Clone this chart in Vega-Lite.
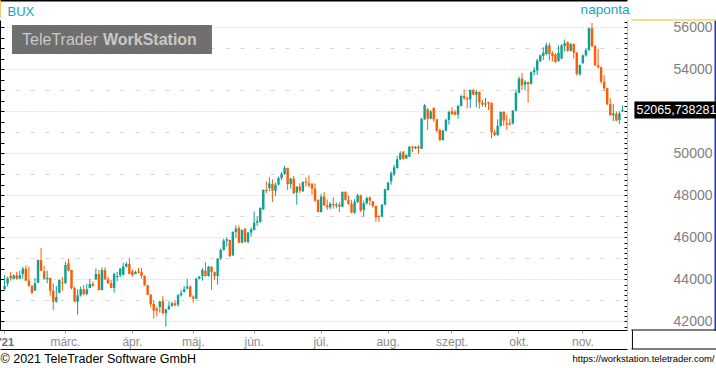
{
"$schema": "https://vega.github.io/schema/vega-lite/v6.json",
"width": 627, "height": 310,
"autosize": {"type": "none"},
"padding": {"left": 0, "top": 20, "right": 89, "bottom": 38},
"background": "white",
"config": {
  "view": {"stroke": null},
  "font": "Liberation Sans",
  "locale": {"number": {"decimal": ",", "thousands": "", "grouping": [3], "currency": ["", ""]}}
},
"data": {"values": [
{"d":"2021-02-01","o":43524,"h":44206,"l":43492,"c":43683},
{"d":"2021-02-02","o":43810,"h":44127,"l":43651,"c":44048},
{"d":"2021-02-03","o":44159,"h":44349,"l":43937,"c":44048},
{"d":"2021-02-04","o":44032,"h":44220,"l":44000,"c":44190},
{"d":"2021-02-05","o":44190,"h":44349,"l":43968,"c":44032},
{"d":"2021-02-08","o":44032,"h":44413,"l":44020,"c":44190},
{"d":"2021-02-09","o":44254,"h":44603,"l":44032,"c":44508},
{"d":"2021-02-10","o":44508,"h":44667,"l":43920,"c":43937},
{"d":"2021-02-11","o":43937,"h":44603,"l":43651,"c":43683},
{"d":"2021-02-12","o":43683,"h":43730,"l":43302,"c":43365},
{"d":"2021-02-15","o":43460,"h":44063,"l":43450,"c":43810},
{"d":"2021-02-16","o":43841,"h":44940,"l":43820,"c":44921},
{"d":"2021-02-17","o":44921,"h":45492,"l":44381,"c":44413},
{"d":"2021-02-18","o":44381,"h":44635,"l":43968,"c":44032},
{"d":"2021-02-19","o":44010,"h":44413,"l":43810,"c":44063},
{"d":"2021-02-22","o":44063,"h":44080,"l":43222,"c":43460},
{"d":"2021-02-23","o":43460,"h":43810,"l":42540,"c":42937},
{"d":"2021-02-24","o":42937,"h":43683,"l":42889,"c":43159},
{"d":"2021-02-25","o":43365,"h":43990,"l":43340,"c":43968},
{"d":"2021-02-26","o":43860,"h":44111,"l":43460,"c":43810},
{"d":"2021-03-01","o":43810,"h":44841,"l":43790,"c":44683},
{"d":"2021-03-02","o":44762,"h":44984,"l":44381,"c":44413},
{"d":"2021-03-03","o":44444,"h":44460,"l":43524,"c":43587},
{"d":"2021-03-04","o":43587,"h":43651,"l":42920,"c":42937},
{"d":"2021-03-05","o":42937,"h":43524,"l":42317,"c":43238},
{"d":"2021-03-08","o":43238,"h":43651,"l":43175,"c":43524},
{"d":"2021-03-09","o":43524,"h":43730,"l":43238,"c":43302},
{"d":"2021-03-10","o":43302,"h":43778,"l":43238,"c":43524},
{"d":"2021-03-11","o":43587,"h":44016,"l":43570,"c":43778},
{"d":"2021-03-12","o":43778,"h":43889,"l":43651,"c":43683},
{"d":"2021-03-16","o":44000,"h":44508,"l":43968,"c":44254},
{"d":"2021-03-17","o":44254,"h":44444,"l":43460,"c":43492},
{"d":"2021-03-18","o":43492,"h":44571,"l":43470,"c":44444},
{"d":"2021-03-19","o":44444,"h":44571,"l":43968,"c":44000},
{"d":"2021-03-22","o":44000,"h":44127,"l":43778,"c":43810},
{"d":"2021-03-23","o":43810,"h":43968,"l":43570,"c":43587},
{"d":"2021-03-24","o":43587,"h":44317,"l":43365,"c":44254},
{"d":"2021-03-25","o":44110,"h":44349,"l":43905,"c":44159},
{"d":"2021-03-26","o":44190,"h":44540,"l":44095,"c":44508},
{"d":"2021-03-29","o":44222,"h":44794,"l":44159,"c":44603},
{"d":"2021-03-30","o":44603,"h":44825,"l":44571,"c":44730},
{"d":"2021-03-31","o":44730,"h":45016,"l":44240,"c":44254},
{"d":"2021-04-01","o":44381,"h":44476,"l":44127,"c":44190},
{"d":"2021-04-06","o":44254,"h":44413,"l":44240,"c":44349},
{"d":"2021-04-07","o":44380,"h":44540,"l":44286,"c":44317},
{"d":"2021-04-08","o":44349,"h":44540,"l":44032,"c":44159},
{"d":"2021-04-09","o":44159,"h":44190,"l":43683,"c":43714},
{"d":"2021-04-12","o":43714,"h":43746,"l":43238,"c":43270},
{"d":"2021-04-13","o":43270,"h":43302,"l":42667,"c":42825},
{"d":"2021-04-14","o":42825,"h":42984,"l":42127,"c":42508},
{"d":"2021-04-15","o":42603,"h":42698,"l":42222,"c":42508},
{"d":"2021-04-16","o":42683,"h":42984,"l":42413,"c":42937},
{"d":"2021-04-19","o":42984,"h":43206,"l":42317,"c":42381},
{"d":"2021-04-20","o":42381,"h":42603,"l":41746,"c":42571},
{"d":"2021-04-21","o":42571,"h":42937,"l":42540,"c":42730},
{"d":"2021-04-22","o":42730,"h":42937,"l":42698,"c":42857},
{"d":"2021-04-23","o":42857,"h":43016,"l":42698,"c":42762},
{"d":"2021-04-26","o":42794,"h":43302,"l":42698,"c":43238},
{"d":"2021-04-27","o":43238,"h":43492,"l":43175,"c":43333},
{"d":"2021-04-28","o":43397,"h":43683,"l":43365,"c":43524},
{"d":"2021-04-29","o":43556,"h":44032,"l":43524,"c":43651},
{"d":"2021-04-30","o":43651,"h":43714,"l":43160,"c":43175},
{"d":"2021-05-03","o":43175,"h":43238,"l":42889,"c":43079},
{"d":"2021-05-04","o":43079,"h":44063,"l":43060,"c":44032},
{"d":"2021-05-05","o":44032,"h":44159,"l":44000,"c":44127},
{"d":"2021-05-06","o":44159,"h":44540,"l":43937,"c":44444},
{"d":"2021-05-07","o":44413,"h":44825,"l":44127,"c":44159},
{"d":"2021-05-10","o":44159,"h":44635,"l":44127,"c":44603},
{"d":"2021-05-11","o":44603,"h":44620,"l":43492,"c":44349},
{"d":"2021-05-12","o":44349,"h":44370,"l":43968,"c":44159},
{"d":"2021-05-13","o":44159,"h":45016,"l":43746,"c":44984},
{"d":"2021-05-14","o":44984,"h":45460,"l":44921,"c":45397},
{"d":"2021-05-17","o":45397,"h":45937,"l":45365,"c":45841},
{"d":"2021-05-18","o":45841,"h":46000,"l":45556,"c":45905},
{"d":"2021-05-19","o":45873,"h":45890,"l":45048,"c":45111},
{"d":"2021-05-20","o":45143,"h":46286,"l":45111,"c":46254},
{"d":"2021-05-21","o":46254,"h":46571,"l":45968,"c":46413},
{"d":"2021-05-25","o":46444,"h":46571,"l":45730,"c":45746},
{"d":"2021-05-26","o":45746,"h":46381,"l":45714,"c":46349},
{"d":"2021-05-27","o":46413,"h":46444,"l":45746,"c":45778},
{"d":"2021-05-28","o":45778,"h":46254,"l":45714,"c":46222},
{"d":"2021-05-31","o":46222,"h":46476,"l":46032,"c":46381},
{"d":"2021-06-01","o":46349,"h":47238,"l":46330,"c":46698},
{"d":"2021-06-02","o":46698,"h":46984,"l":46540,"c":46762},
{"d":"2021-06-03","o":46730,"h":47429,"l":46698,"c":47397},
{"d":"2021-06-04","o":47333,"h":48286,"l":47302,"c":48254},
{"d":"2021-06-07","o":48254,"h":48667,"l":48095,"c":48200},
{"d":"2021-06-08","o":48349,"h":48857,"l":48190,"c":48571},
{"d":"2021-06-09","o":48540,"h":48762,"l":47683,"c":48222},
{"d":"2021-06-10","o":48222,"h":48603,"l":47968,"c":48508},
{"d":"2021-06-11","o":48508,"h":48889,"l":48476,"c":48825},
{"d":"2021-06-14","o":48825,"h":49111,"l":48730,"c":49016},
{"d":"2021-06-15","o":49016,"h":49397,"l":48984,"c":49302},
{"d":"2021-06-16","o":49302,"h":49320,"l":48254,"c":48540},
{"d":"2021-06-17","o":48540,"h":48825,"l":48317,"c":48794},
{"d":"2021-06-18","o":48794,"h":48921,"l":48063,"c":48095},
{"d":"2021-06-21","o":48127,"h":48430,"l":47556,"c":48413},
{"d":"2021-06-22","o":48413,"h":48571,"l":48095,"c":48222},
{"d":"2021-06-23","o":48190,"h":48667,"l":48159,"c":48635},
{"d":"2021-06-24","o":48650,"h":48857,"l":48413,"c":48600},
{"d":"2021-06-25","o":48571,"h":48952,"l":48381,"c":48476},
{"d":"2021-06-28","o":48540,"h":48603,"l":48032,"c":48317},
{"d":"2021-06-29","o":48317,"h":48571,"l":47683,"c":47746},
{"d":"2021-06-30","o":47778,"h":47810,"l":47190,"c":47206},
{"d":"2021-07-01","o":47206,"h":48063,"l":47175,"c":47937},
{"d":"2021-07-02","o":47937,"h":48159,"l":47492,"c":47524},
{"d":"2021-07-05","o":47524,"h":47810,"l":47302,"c":47429},
{"d":"2021-07-06","o":47429,"h":47683,"l":47333,"c":47587},
{"d":"2021-07-07","o":47580,"h":47905,"l":47365,"c":47524},
{"d":"2021-07-08","o":47500,"h":47650,"l":47380,"c":47560},
{"d":"2021-07-09","o":47556,"h":47683,"l":47206,"c":47460},
{"d":"2021-07-12","o":47460,"h":48190,"l":47429,"c":48159},
{"d":"2021-07-13","o":48159,"h":48190,"l":47746,"c":47778},
{"d":"2021-07-14","o":47778,"h":48000,"l":47556,"c":47587},
{"d":"2021-07-15","o":47587,"h":47778,"l":47143,"c":47175},
{"d":"2021-07-16","o":47175,"h":47810,"l":47111,"c":47683},
{"d":"2021-07-19","o":47683,"h":48063,"l":47619,"c":48000},
{"d":"2021-07-20","o":48000,"h":48032,"l":47206,"c":47270},
{"d":"2021-07-21","o":47302,"h":47746,"l":46984,"c":47619},
{"d":"2021-07-22","o":47619,"h":47937,"l":47556,"c":47873},
{"d":"2021-07-23","o":47905,"h":47937,"l":47524,"c":47746},
{"d":"2021-07-26","o":47714,"h":47730,"l":47397,"c":47492},
{"d":"2021-07-27","o":47492,"h":47510,"l":46730,"c":46952},
{"d":"2021-07-28","o":47016,"h":47048,"l":46730,"c":46960},
{"d":"2021-07-29","o":46984,"h":47587,"l":46952,"c":47556},
{"d":"2021-07-30","o":47556,"h":48317,"l":47524,"c":48286},
{"d":"2021-08-02","o":48254,"h":48635,"l":48222,"c":48603},
{"d":"2021-08-03","o":48667,"h":49143,"l":48508,"c":49048},
{"d":"2021-08-04","o":49016,"h":49460,"l":48921,"c":49333},
{"d":"2021-08-05","o":49302,"h":49873,"l":49270,"c":49714},
{"d":"2021-08-06","o":49714,"h":50095,"l":49683,"c":50000},
{"d":"2021-08-09","o":50079,"h":50110,"l":49700,"c":49732},
{"d":"2021-08-10","o":49760,"h":49950,"l":49720,"c":49921},
{"d":"2021-08-11","o":49842,"h":50350,"l":49820,"c":50315},
{"d":"2021-08-12","o":50315,"h":50360,"l":50050,"c":50260},
{"d":"2021-08-13","o":50236,"h":50340,"l":50200,"c":50315},
{"d":"2021-08-16","o":50315,"h":50394,"l":49980,"c":50236},
{"d":"2021-08-17","o":50222,"h":51680,"l":50200,"c":51651},
{"d":"2021-08-18","o":51619,"h":52340,"l":51590,"c":52286},
{"d":"2021-08-19","o":52095,"h":52150,"l":51111,"c":51651},
{"d":"2021-08-23","o":51651,"h":52050,"l":51620,"c":52000},
{"d":"2021-08-24","o":52158,"h":52190,"l":51500,"c":51619},
{"d":"2021-08-25","o":51619,"h":51650,"l":51015,"c":51079},
{"d":"2021-08-26","o":51111,"h":51170,"l":50571,"c":50635},
{"d":"2021-08-27","o":50635,"h":51111,"l":50600,"c":51079},
{"d":"2021-08-30","o":51079,"h":51651,"l":51040,"c":51587},
{"d":"2021-08-31","o":51587,"h":52032,"l":51365,"c":51968},
{"d":"2021-09-01","o":52000,"h":52190,"l":51810,"c":51873},
{"d":"2021-09-02","o":51968,"h":52063,"l":51810,"c":51841},
{"d":"2021-09-03","o":51841,"h":52317,"l":51651,"c":52254},
{"d":"2021-09-06","o":52254,"h":52794,"l":52222,"c":52730},
{"d":"2021-09-07","o":52730,"h":53048,"l":52540,"c":52635},
{"d":"2021-09-08","o":52635,"h":52698,"l":52127,"c":52571},
{"d":"2021-09-09","o":52571,"h":53048,"l":52159,"c":53016},
{"d":"2021-09-10","o":53016,"h":53079,"l":52762,"c":52794},
{"d":"2021-09-13","o":52794,"h":53016,"l":52190,"c":52921},
{"d":"2021-09-14","o":52921,"h":52952,"l":52127,"c":52413},
{"d":"2021-09-15","o":52413,"h":52540,"l":52222,"c":52317},
{"d":"2021-09-16","o":52317,"h":52635,"l":52190,"c":52381},
{"d":"2021-09-17","o":52440,"h":52460,"l":52063,"c":52381},
{"d":"2021-09-20","o":52408,"h":52420,"l":50713,"c":50995},
{"d":"2021-09-21","o":50995,"h":51111,"l":50825,"c":50870},
{"d":"2021-09-22","o":50870,"h":51619,"l":50825,"c":51309},
{"d":"2021-09-23","o":51309,"h":52000,"l":51270,"c":51968},
{"d":"2021-09-24","o":51969,"h":52000,"l":51309,"c":51560},
{"d":"2021-09-27","o":51435,"h":51843,"l":51121,"c":51372},
{"d":"2021-09-28","o":51435,"h":51651,"l":51333,"c":51370},
{"d":"2021-09-29","o":51429,"h":52063,"l":51365,"c":52031},
{"d":"2021-09-30","o":52031,"h":53048,"l":52000,"c":52879},
{"d":"2021-10-01","o":52879,"h":53651,"l":52857,"c":53554},
{"d":"2021-10-04","o":53554,"h":53821,"l":53005,"c":53240},
{"d":"2021-10-05","o":53270,"h":53492,"l":53016,"c":53397},
{"d":"2021-10-06","o":53397,"h":53420,"l":52413,"c":53290},
{"d":"2021-10-07","o":53302,"h":53900,"l":53270,"c":53868},
{"d":"2021-10-08","o":53868,"h":54095,"l":53711,"c":53968},
{"d":"2021-10-11","o":53947,"h":54496,"l":53727,"c":54418},
{"d":"2021-10-12","o":54386,"h":54700,"l":54350,"c":54669},
{"d":"2021-10-13","o":54638,"h":55046,"l":54449,"c":54795},
{"d":"2021-10-14","o":54732,"h":55266,"l":54669,"c":55140},
{"d":"2021-10-15","o":55140,"h":55266,"l":54418,"c":54732},
{"d":"2021-10-18","o":54763,"h":54857,"l":54386,"c":54638},
{"d":"2021-10-19","o":54698,"h":54763,"l":54300,"c":54353},
{"d":"2021-10-20","o":54400,"h":55137,"l":54350,"c":54792},
{"d":"2021-10-21","o":54510,"h":55200,"l":54480,"c":55137},
{"d":"2021-10-22","o":55106,"h":55420,"l":54855,"c":55231},
{"d":"2021-10-25","o":55294,"h":55325,"l":54823,"c":54886},
{"d":"2021-10-26","o":54886,"h":55250,"l":54850,"c":55200},
{"d":"2021-10-27","o":55200,"h":55230,"l":54510,"c":54792},
{"d":"2021-10-28","o":54792,"h":54820,"l":53700,"c":53788},
{"d":"2021-10-29","o":53756,"h":54230,"l":53700,"c":54196},
{"d":"2021-11-02","o":54290,"h":54700,"l":54260,"c":54667},
{"d":"2021-11-03","o":54667,"h":55000,"l":54600,"c":54918},
{"d":"2021-11-04","o":54918,"h":55990,"l":54880,"c":55953},
{"d":"2021-11-05","o":55953,"h":56204,"l":55043,"c":55106},
{"d":"2021-11-08","o":55106,"h":55150,"l":54150,"c":54196},
{"d":"2021-11-09","o":54196,"h":54980,"l":54040,"c":54102},
{"d":"2021-11-10","o":54102,"h":54130,"l":53317,"c":53411},
{"d":"2021-11-11","o":53411,"h":53725,"l":52972,"c":53097},
{"d":"2021-11-12","o":53097,"h":53110,"l":52281,"c":52344},
{"d":"2021-11-15","o":52344,"h":52627,"l":51780,"c":51811},
{"d":"2021-11-16","o":51811,"h":52344,"l":51530,"c":51905},
{"d":"2021-11-17","o":51874,"h":52000,"l":51530,"c":51560},
{"d":"2021-11-18","o":51590,"h":52000,"l":51400,"c":51905},
{"d":"2021-11-19","o":52000,"h":52280,"l":51968,"c":52065.738281}
]},
"layer": [
  {
    "mark": {"type": "rule", "strokeWidth": 1},
    "encoding": {
      "x": {"field": "d", "type": "ordinal", "sort": null,
        "scale": {"type": "band", "paddingInner": 0, "paddingOuter": 2.5},
        "axis": {"orient": "bottom",
          "values": ["2021-02-01","2021-03-01","2021-04-01","2021-05-03","2021-06-01","2021-07-01","2021-08-02","2021-09-01","2021-10-01","2021-11-02"],
          "labelExpr": "['', 'jan.', \"'21\", 'márc.', 'ápr.', 'máj.', 'jún.', 'júl.', 'aug.', 'szept.', 'okt.', 'nov.', 'dec.'][toNumber(substring(datum.value, 5, 7))]",
          "labelAngle": 0, "labelPadding": 3, "labelOverlap": false,
          "labelFontSize": {"condition": {"test": "datum.value === '2021-02-01'", "value": 11}, "value": 12},
          "labelOffset": {"condition": {"test": "datum.value === '2021-02-01'", "value": 2}, "value": 0},
          "labelColor": {"condition": {"test": "datum.value === '2021-02-01'", "value": "#707070"}, "value": "#8c8c8c"},
          "labelFontWeight": {"condition": {"test": "datum.value === '2021-02-01'", "value": "bold"}, "value": "normal"},
          "domainColor": "#000000", "tickColor": "#9a9a9a", "tickSize": 3, "grid": false,
          "title": "© 2021 TeleTrader Software GmbH", "titleX": 0, "titleY": 28, "titleAlign": "left", "titleAnchor": "start",
          "titleBaseline": "middle", "titleFontSize": 12.5, "titleFontWeight": "normal", "titleColor": "#000000"}},
      "y": {"field": "l", "type": "quantitative",
        "scale": {"domain": [41586, 56348], "nice": false, "zero": false},
        "axis": {"orient": "left", "labels": false, "title": null,
          "values": [42000,42500,43000,43500,44000,44500,45000,45500,46000,46500,47000,47500,48000,48500,49000,49500,50000,50500,51000,51500,52000,52500,53000,53500,54000,54500,55000,55500,56000],
          "domainColor": "#000000", "tickColor": "#000000", "tickSize": -4,
          "grid": true,
          "gridColor": {"condition": {"test": "datum.value % 2000 === 0", "value": "#c6c6c6"}, "value": "#d6d6d6"},
          "gridDash": {"condition": {"test": "datum.value % 2000 === 0", "value": [1, 2]}, "value": [4, 11]},
          "gridOpacity": {"condition": {"test": "datum.value % 1000 !== 0", "value": 0}, "value": 1}}},
      "y2": {"field": "h"},
      "color": {"condition": {"test": "datum.c >= datum.o", "value": "#0ea193"}, "value": "#fd5c03"}
    }
  },
  {
    "mark": {"type": "bar", "width": {"band": 0.8}},
    "encoding": {
      "x": {"field": "d", "type": "ordinal", "sort": null,
        "axis": {"orient": "bottom", "offset": 19, "labels": false, "ticks": false, "grid": false, "domainColor": "#000000",
          "title": "https://workstation.teletrader.com/", "titleX": 714, "titleY": 9, "titleAlign": "right", "titleAnchor": "end",
          "titleBaseline": "middle", "titleFontSize": 9.5, "titleFontWeight": "normal", "titleColor": "#000000"}},
      "y": {"field": "o", "type": "quantitative",
        "axis": {"orient": "right", "title": null, "grid": false,
          "values": [41750,42000,42250,42500,42750,43000,43250,43500,43750,44000,44250,44500,44750,45000,45250,45500,45750,46000,46250,46500,46750,47000,47250,47500,47750,48000,48250,48500,48750,49000,49250,49500,49750,50000,50250,50500,50750,51000,51250,51500,51750,52000,52250,52500,52750,53000,53250,53500,53750,54000,54250,54500,54750,55000,55250,55500,55750,56000,56250],
          "labelExpr": "datum.value % 2000 === 0 && datum.value !== 52000 ? format(datum.value, 'd') : ''",
          "labelOverlap": false, "labelBound": false, "labelFlush": false,
          "labelAlign": "right", "labelBaseline": "middle", "labelPadding": 88,
          "labelColor": "#808080", "labelFontSize": 14,
          "domainColor": "#f0c020", "tickColor": "#000000", "tickSize": -3}},
      "y2": {"field": "c"},
      "color": {"condition": {"test": "datum.c >= datum.o", "value": "#0ea193"}, "value": "#fd5c03"}
    }
  },
  {
    "transform": [{"filter": "datum.d === '2021-11-19'"}],
    "mark": {"type": "point", "shape": "M0.24,-0.17H1.88V0.17H0.24Z", "size": 10000, "filled": true, "color": "#000000", "opacity": 1, "strokeWidth": 0},
    "encoding": {
      "x": {"field": "d", "type": "ordinal", "sort": null,
        "axis": {"orient": "top", "offset": 20, "labels": false, "ticks": false, "grid": false, "domainColor": "#000000", "domainWidth": 2,
          "title": "BUX", "titleX": 7, "titleY": 11, "titleAlign": "left", "titleAnchor": "start", "titleBaseline": "middle",
          "titleFontSize": 13, "titleFontWeight": "normal", "titleColor": "#18a6b4"}},
      "y": {"field": "c", "type": "quantitative",
        "axis": {"orient": "right", "offset": 88, "labels": false, "ticks": false, "grid": false, "title": null,
          "domainColor": "#2233bb", "domainWidth": 2}}
    }
  },
  {
    "transform": [{"filter": "datum.d === '2021-11-19'"}],
    "mark": {"type": "text", "align": "left", "baseline": "middle", "dx": 14, "fontSize": 12.5, "color": "#ffffff"},
    "encoding": {
      "x": {"field": "d", "type": "ordinal", "sort": null, "axis": null},
      "y": {"field": "c", "type": "quantitative", "axis": null},
      "text": {"field": "c", "type": "quantitative", "format": ".6f"}
    }
  },
  {
    "data": {"values": [{}]},
    "mark": {"type": "point", "shape": "M-0.9,-0.15H1.1V0.14H-0.9Z", "size": 40000, "filled": true, "color": "#4f4f4f", "opacity": 0.82, "strokeWidth": 0},
    "encoding": {
      "x": {"datum": "2021-03-18", "type": "ordinal", "axis": null},
      "y": {"datum": 55395, "type": "quantitative", "axis": null}
    }
  },
  {
    "data": {"values": [{}]},
    "mark": {"type": "text", "text": "TeleTrader", "align": "right", "baseline": "middle", "dx": -4, "fontSize": 16, "color": "#c9c9c9"},
    "encoding": {
      "x": {"datum": "2021-03-18", "type": "ordinal", "axis": null},
      "y": {"datum": 55395, "type": "quantitative", "axis": null}
    }
  },
  {
    "data": {"values": [{}]},
    "mark": {"type": "text", "text": "WorkStation", "align": "left", "baseline": "middle", "dx": 1, "fontSize": 16, "fontWeight": "bold", "color": "#c9c9c9"},
    "encoding": {
      "x": {"datum": "2021-03-18", "type": "ordinal", "axis": null},
      "y": {"datum": 55395, "type": "quantitative", "axis": null}
    }
  },
  {
    "data": {"values": [{}]},
    "mark": {"type": "text", "text": "naponta", "align": "right", "baseline": "middle", "dx": 7, "fontSize": 13.5, "color": "#18a6b4"},
    "encoding": {
      "x": {"datum": "2021-11-19", "type": "ordinal", "axis": null},
      "y": {"datum": 56824, "type": "quantitative", "axis": null}
    }
  },
  {
    "data": {"values": [{}]},
    "mark": {"type": "point", "shape": "M-0.9,-1H-0.4V0.8H-0.9Z", "size": 400, "filled": true, "color": "#f59a00", "opacity": 1, "strokeWidth": 0},
    "encoding": {
      "x": {"datum": "2021-02-01", "type": "ordinal", "axis": null},
      "y": {"datum": 56824, "type": "quantitative", "axis": null}
    }
  },
  {
    "data": {"values": [{}]},
    "mark": {"type": "point", "shape": "M0.18,-0.01H1.96V0.01H0.18Z", "size": 10000, "filled": true, "color": "#f0c020", "opacity": 1, "strokeWidth": 0},
    "encoding": {
      "x": {"datum": "2021-11-19", "type": "ordinal", "axis": null},
      "y": {"datum": 56348, "type": "quantitative", "axis": null}
    }
  },
  {
    "data": {"values": [{}]},
    "mark": {"type": "point", "shape": "M0.18,0H1.96M0.2,0V0.38M0.18,0.38H1.96", "size": 10000, "filled": false, "color": "#000000", "opacity": 1, "strokeWidth": 1},
    "encoding": {
      "x": {"datum": "2021-11-19", "type": "ordinal", "axis": null},
      "y": {"datum": 41586, "type": "quantitative", "axis": null}
    }
  }
],
"resolve": {"axis": {"x": "independent", "y": "independent"}}
}
